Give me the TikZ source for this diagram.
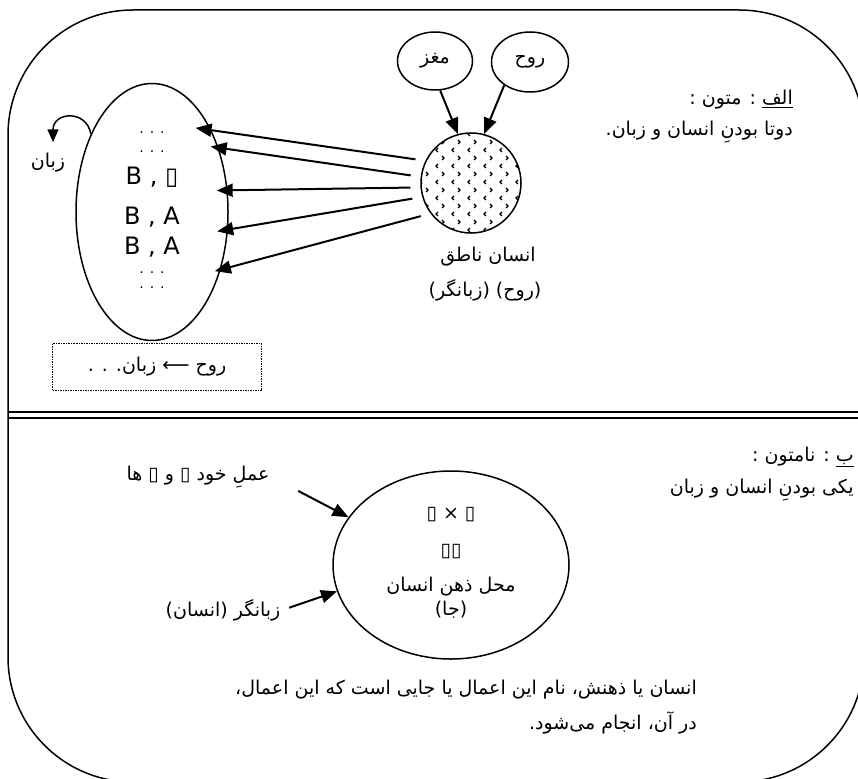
\documentclass[tikz,border=0pt]{standalone}
\usepackage{fontspec}
\setmainfont{DejaVu Sans}
\newfontfamily\fa[Script=Arabic]{DejaVu Sans}
\TeXXeTstate=1
\usetikzlibrary{shapes.geometric,arrows.meta,patterns}
\newcommand{\fatxt}[1]{{\fa\beginR #1\endR}}
\pgfdeclarepatternformonly{chevrons}{\pgfqpoint{-1pt}{-1pt}}{\pgfqpoint{17pt}{17pt}}{\pgfqpoint{16pt}{16pt}}{%
  \pgfsetlinewidth{1.3pt}
  \pgfpathmoveto{\pgfqpoint{6pt}{6pt}}\pgfpathlineto{\pgfqpoint{4pt}{4pt}}\pgfpathlineto{\pgfqpoint{6pt}{2pt}}
  \pgfpathmoveto{\pgfqpoint{10pt}{14pt}}\pgfpathlineto{\pgfqpoint{12pt}{12pt}}\pgfpathlineto{\pgfqpoint{10pt}{10pt}}
  \pgfusepath{stroke}}
\tikzstyle{ell} = [ellipse,
                   draw,
                   line width=1.5pt,
                   inner sep=0pt,
                   font=\fontsize{19}{23}\selectfont]
\tikzstyle{lbl} = [inner sep=2pt,
                   font=\fontsize{19}{23}\selectfont]
\tikzstyle{big} = [inner sep=1pt,
                   font=\fontsize{24}{28}\selectfont]
\tikzstyle{dots} = [inner sep=1pt,
                   font=\fontsize{14}{16}\selectfont]
\tikzstyle{arr} = [line width=2pt,
                   -{Triangle[length=16pt,width=13pt]}]

\begin{document}
\begin{tikzpicture}[x=1pt,y=-1pt]
     \useasboundingbox (0,0) rectangle (858,778);
     % frame
     \draw[line width=1.5pt, rounded corners=125pt] (8,10) rectangle (864,782);
     \draw[line width=1.5pt] (8,412) -- (864,412);
     \draw[line width=1.5pt] (8,418) -- (864,418);
     % upper part
     \node[ell, minimum width=75pt, minimum height=58pt] (brain) at (435,61) {\fatxt{مغز}};
     \node[ell, minimum width=77pt, minimum height=60pt] (soul) at (530,62) {\fatxt{روح}};
     \node[circle, draw, line width=1.5pt, minimum size=100pt, pattern=chevrons] (man) at (471,183) {};
     \node[lbl] (manlbl) at (488,257) {\fatxt{انسان ناطق}};
     \node[lbl] (manrole) at (485,290) {\fatxt{(روح) (زبانگر)}};
     \draw[arr] (brain.280) -- (man.105);
     \draw[arr] (soul.222) -- (man.75);
     \node[lbl, anchor=east] (alef) at (795,100) {\fatxt{\underline{الف} : متون :}};
     \node[lbl, anchor=east] (alefdef) at (795,132) {\fatxt{دوتا بودنِ انسان و زبان.}};
     % the language
     \node[ell, minimum width=152pt, minimum height=257pt] (lang) at (152,212) {};
     \foreach \yy in {133,152,273,288}
        \node[dots] (dots\yy) at (152,\yy) {. . .};
     \node[big] (pairx) at (152,177) {B , ▯};
     \node[big] (pair1) at (152,217) {B , A};
     \node[big] (pair2) at (152,247) {B , A};
     \foreach \s/\e/\d in {154/54/-16pt, 173/44/-8pt, 185/16/-11pt, 196/-13/-11pt, 217/-40/-6pt}
        \draw[arr, shorten <=10pt, shorten >=\d] (man.\s) -- (lang.\e);
     \node[lbl] (zaban) at (48,163) {\fatxt{زبان}};
     \draw[line width=1.5pt, -{Triangle[length=13pt,width=11pt]}]
        (lang.128) .. controls +(-5,-25) and +(0,-30) .. ([xshift=5pt,yshift=9pt]zaban.north);
     \node[lbl, draw, densely dotted, line width=1.5pt, minimum width=209pt, minimum height=47pt] (summary) at (157,367) {\fatxt{روح ⟵ زبان. . .}};
     % lower part
     \node[ell, minimum width=236pt, minimum height=188pt] (mind) at (451,565) {};
     \node[lbl] (cross) at (451,515) {▯ × ▯};
     \node[lbl] (twin) at (451,552) {▯▯};
     \node[lbl] (place) at (451,587) {\fatxt{محل ذهن انسان}};
     \node[lbl] (ja) at (451,610) {\fatxt{(جا)}};
     \node[lbl] (act) at (198,477) {\fatxt{عملِ خود ▯ و ▯ ها}};
     \node[lbl] (speaker) at (223,610) {\fatxt{زبانگر (انسان)}};
     \draw[arr, shorten <=30pt] (act.east) -- (mind.155);
     \draw[arr, shorten <=7pt] (speaker.east) -- (mind.193);
     \node[lbl, anchor=east] (beh) at (856,457) {\fatxt{\underline{ب} : نامتون :}};
     \node[lbl, anchor=east] (behdef) at (856,490) {\fatxt{یکی بودنِ انسان و زبان}};
     \node[lbl, anchor=east] (note1) at (699,690) {\fatxt{انسان یا ذهنش، نام این اعمال یا جایی است که این اعمال،}};
     \node[lbl, anchor=east] (note2) at (699,723) {\fatxt{در آن، انجام می‌شود.}};
\end{tikzpicture}
\end{document}
